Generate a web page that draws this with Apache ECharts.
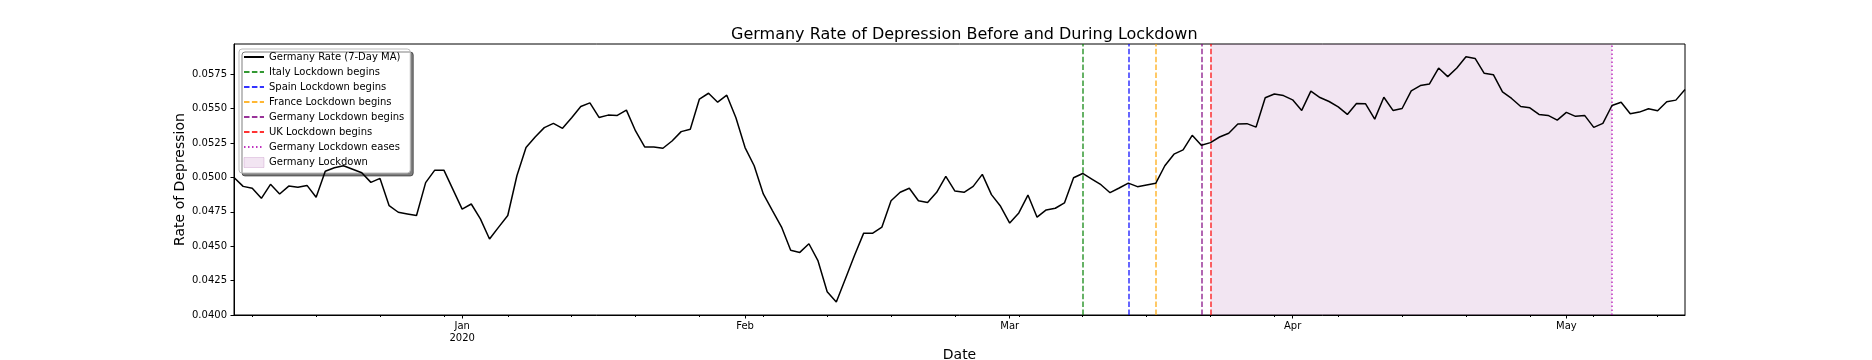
<!DOCTYPE html>
<html>
<head>
<meta charset="utf-8">
<title>Germany Rate of Depression Before and During Lockdown</title>
<script src="https://cdn.jsdelivr.net/npm/echarts@6/dist/echarts.min.js"></script>
<style>
  html, body { margin: 0; padding: 0; background: #fff; }
  #chart { width: 1872px; height: 360px; }
</style>
</head>
<body>
<div id="chart"></div>
<script>
'use strict'

// 7-day moving average, one value per day starting 2019-12-07
var startDate = '2019-12-07';

var decValues = [0.05000, 0.04935, 0.04921, 0.04848, 0.04950, 0.04880, 0.04937, 0.04928, 0.04942, 0.04856,
  0.05045, 0.05070, 0.05085, 0.05060, 0.05034, 0.04964, 0.04993, 0.04795, 0.04747, 0.04735,
  0.04723, 0.04962, 0.05053, 0.05053, 0.04911];
var janValues = [0.04770, 0.04807, 0.04699, 0.04552, 0.04639, 0.04723, 0.05012, 0.05217, 0.05294, 0.05362,
  0.05393, 0.05357, 0.05434, 0.05516, 0.05542, 0.05436, 0.05453, 0.05451, 0.05489, 0.05338,
  0.05222, 0.05222, 0.05212, 0.05265, 0.05333, 0.05350, 0.05570, 0.05612, 0.05547, 0.05598, 0.05434];
var febValues = [0.05217, 0.05085, 0.04880, 0.04759, 0.04639, 0.04470, 0.04455, 0.04518, 0.04393, 0.04169,
  0.04094, 0.04263, 0.04434, 0.04595, 0.04595, 0.04639, 0.04831, 0.04892, 0.04921, 0.04831,
  0.04818, 0.04892, 0.05007, 0.04901, 0.04892, 0.04935, 0.05022, 0.04875, 0.04790];
var marValues = [0.04668, 0.04742, 0.04872, 0.04711, 0.04764, 0.04776, 0.04815, 0.04998, 0.05029, 0.04988,
  0.04947, 0.04889, 0.04923, 0.04959, 0.04933, 0.04945, 0.04957, 0.05085, 0.05169, 0.05200,
  0.05306, 0.05234, 0.05253, 0.05294, 0.05321, 0.05388, 0.05391, 0.05366, 0.05579, 0.05607, 0.05595];
var aprValues = [0.05564, 0.05487, 0.05627, 0.05581, 0.05552, 0.05513, 0.05458, 0.05538, 0.05535, 0.05424,
  0.05583, 0.05487, 0.05501, 0.05629, 0.05668, 0.05680, 0.05795, 0.05733, 0.05795, 0.05877,
  0.05865, 0.05757, 0.05747, 0.05622, 0.05574, 0.05516, 0.05506, 0.05458, 0.05451, 0.05417];
var mayValues = [0.05473, 0.05444, 0.05451, 0.05364, 0.05393, 0.05523, 0.05547, 0.05463, 0.05475, 0.05499,
  0.05485, 0.05550, 0.05562, 0.05639];

var rateValues = decValues.concat(janValues, febValues, marValues, aprValues, mayValues);

var eventNames = ['Italy Lockdown begins', 'Spain Lockdown begins', 'France Lockdown begins',
  'Germany Lockdown begins', 'UK Lockdown begins', 'Germany Lockdown eases'];
var eventDates = ['2020-03-09', '2020-03-14', '2020-03-17', '2020-03-22', '2020-03-23', '2020-05-06'];
var lockdownSpan = ['2020-03-23', '2020-05-06'];

var monthNames = ['Jan', 'Feb', 'Mar', 'Apr', 'May', 'Jun', 'Jul', 'Aug', 'Sep', 'Oct', 'Nov', 'Dec'];

// daily categories
var dates = [];
var t0 = Date.parse(startDate + 'T00:00:00Z');
for (var i = 0; i < rateValues.length; i++) {
  dates.push(new Date(t0 + i * 86400000).toISOString().slice(0, 10));
}

function isMonthStart(idx) {
  return dates[idx].slice(8, 10) === '01';
}
function isMonday(idx) {
  return new Date(dates[idx] + 'T00:00:00Z').getUTCDay() === 1;
}

var eventStyles = [
  { color: '#008000', type: [5.5, 2.4] },
  { color: '#0000ff', type: [5.5, 2.4] },
  { color: '#ffa500', type: [5.5, 2.4] },
  { color: '#800080', type: [5.5, 2.4] },
  { color: '#ff0000', type: [5.5, 2.4] },
  { color: '#b000b0', type: [1.5, 2.5] }
];

var FONT = 'DejaVu Sans';

var series = [{
  name: 'Germany Rate (7-Day MA)',
  type: 'line',
  data: rateValues,
  symbol: 'none',
  z: 5,
  color: '#000',
  lineStyle: { color: '#000', width: 1.5 },
  animation: false
}];

eventNames.forEach(function (name, k) {
  var st = eventStyles[k];
  series.push({
    name: name,
    type: 'line',
    data: [],
    symbol: 'none',
    z: 6,
    color: st.color,
    lineStyle: { color: st.color, type: st.type, width: 1.5, opacity: 0.8 },
    markLine: {
      silent: true,
      symbol: ['none', 'none'],
      label: { show: false },
      animation: false,
      lineStyle: { color: st.color, type: st.type, width: 1.5, opacity: 0.8 },
      data: [{ xAxis: eventDates[k] }]
    },
    animation: false
  });
});

series.push({
  name: 'Germany Lockdown',
  type: 'line',
  data: [],
  symbol: 'none',
  z: 1,
  color: 'rgba(128,0,128,0.1)',
  markArea: {
    silent: true,
    animation: false,
    itemStyle: { color: 'rgba(128,0,128,0.1)' },
    data: [[{ xAxis: lockdownSpan[0] }, { xAxis: lockdownSpan[1] }]]
  },
  animation: false
});

var legendData = [{ name: 'Germany Rate (7-Day MA)' }];
eventNames.forEach(function (n) { legendData.push({ name: n }); });
legendData.push({
  name: 'Germany Lockdown',
  icon: 'rect',
  itemStyle: { color: 'rgba(128,0,128,0.1)', opacity: 1, borderColor: 'rgba(128,0,128,0.15)', borderWidth: 1 }
});

var chart = echarts.init(document.getElementById('chart'), null, { renderer: 'canvas' });

var option = {
  animation: false,
  backgroundColor: '#fff',
  textStyle: { fontFamily: FONT },
  title: {
    text: 'Germany Rate of Depression Before and During Lockdown',
    left: 726,
    top: 22,
    textStyle: { fontFamily: FONT, fontSize: 16, fontWeight: 'normal', color: '#000' }
  },
  grid: {
    left: 234, right: 187, top: 44, bottom: 45,
    outerBoundsMode: 'none',
    containLabel: false,
    show: true, borderColor: '#000', borderWidth: 1, backgroundColor: 'transparent'
  },
  legend: {
    orient: 'vertical',
    left: 239,
    top: 49,
    padding: [3, 6, 5, 4],
    itemGap: 5,
    itemWidth: 20,
    itemHeight: 10,
    backgroundColor: '#fff',
    borderColor: '#bbb',
    borderWidth: 1,
    borderRadius: 3,
    shadowColor: 'rgba(0,0,0,0.5)',
    shadowOffsetX: 3,
    shadowOffsetY: 3,
    shadowBlur: 0,
    itemStyle: { opacity: 0 },
    textStyle: { fontFamily: FONT, fontSize: 10, color: '#000' },
    data: legendData
  },
  xAxis: [{
    type: 'category',
    data: dates,
    boundaryGap: false,
    position: 'bottom',
    name: 'Date',
    nameLocation: 'middle',
    nameGap: 33,
    nameMoveOverlap: false,
    nameTextStyle: { fontFamily: FONT, fontSize: 14, color: '#000' },
    axisLine: { lineStyle: { color: '#000', width: 1 } },
    axisTick: {
      length: 3.5,
      lineStyle: { color: '#000' },
      interval: function (idx) { return isMonthStart(idx); }
    },
    axisLabel: {
      interval: function (idx) { return isMonthStart(idx); },
      fontFamily: FONT,
      fontSize: 10,
      lineHeight: 12,
      margin: 5,
      color: '#000',
      formatter: function (val) {
        var m = monthNames[parseInt(val.slice(5, 7), 10) - 1];
        return m === 'Jan' ? m + '\n' + val.slice(0, 4) : m;
      }
    },
    splitLine: { show: false }
  }, {
    type: 'category',
    data: dates,
    boundaryGap: false,
    position: 'bottom',
    axisLine: { show: false },
    axisTick: {
      length: 2,
      lineStyle: { color: '#000' },
      interval: function (idx) { return isMonday(idx) && !isMonthStart(idx); }
    },
    axisLabel: { show: false },
    splitLine: { show: false }
  }],
  yAxis: {
    type: 'value',
    min: 0.04,
    max: 0.0597,
    interval: 0.0025,
    name: 'Rate of Depression',
    nameLocation: 'middle',
    nameGap: 47,
    nameMoveOverlap: false,
    nameRotate: 90,
    nameTextStyle: { fontFamily: FONT, fontSize: 14, color: '#000' },
    axisLine: { show: true, lineStyle: { color: '#000' } },
    axisTick: { show: true, length: 3.5, lineStyle: { color: '#000' } },
    axisLabel: {
      showMaxLabel: false,
      fontFamily: FONT,
      fontSize: 10,
      margin: 7,
      color: '#000',
      formatter: function (v) { return v.toFixed(4); }
    },
    splitLine: { show: false }
  },
  series: series
};

chart.setOption(option);
window.addEventListener('resize', function () {
  chart.resize();
});
</script>
</body>
</html>
